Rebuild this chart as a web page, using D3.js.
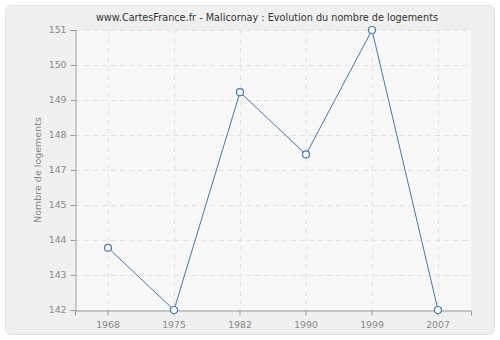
<!DOCTYPE html>
<html>
<head>
<meta charset="utf-8">
<script src="https://cdn.jsdelivr.net/npm/d3@7"></script>
<style>
  body { margin: 0; background: #fff; }
  svg text { font-family: "DejaVu Sans", Verdana, sans-serif; }
</style>
</head>
<body>
<svg id="chart"></svg>
<script>
// data
const years = ["1968", "1975", "1982", "1990", "1999", "2007"];
const logements = [144, 142, 149, 147, 151, 142];
const yMin = 142;
const yMax = 151;
const yTickCount = 8; // intervals

const width = 500, height = 340;
const margin = {top: 30, right: 29, bottom: 30, left: 75};
const innerW = width - margin.left - margin.right;
const innerH = height - margin.top - margin.bottom;

let svg = d3.select("#chart")
    .attr("width", width)
    .attr("height", height);

// outer panel
svg.append("rect")
    .attr("x", 5.5).attr("y", 5.5)
    .attr("width", width - 11).attr("height", height - 11)
    .attr("rx", 6).attr("ry", 6)
    .attr("fill", "#f0f0f0")
    .attr("stroke", "#e2e2e2");

// hatch pattern for plot bg
const defs = svg.append("defs");
const pat = defs.append("pattern")
    .attr("id", "hatch")
    .attr("patternUnits", "userSpaceOnUse")
    .attr("width", 4).attr("height", 4);
pat.append("rect").attr("width", 4).attr("height", 4).attr("fill", "#fbfbfb");
pat.append("path")
    .attr("d", "M-1,1 l2,-2 M0,4 l4,-4 M3,5 l2,-2")
    .attr("stroke", "#ececec")
    .attr("stroke-width", 0.8);

const x = d3.scaleBand()
    .domain(years)
    .range([0, innerW]);

const y = d3.scaleLinear()
    .domain([yMin, yMax])
    .range([innerH, 0]);

const yTicks = d3.range(yTickCount + 1).map(i => yMin + i * (yMax - yMin) / yTickCount);

const g = svg.append("g")
    .attr("transform", `translate(${margin.left},${margin.top})`);

g.append("rect")
    .attr("width", innerW).attr("height", innerH)
    .attr("fill", "url(#hatch)");

// alternate lighter bands
g.selectAll(".band")
    .data(yTicks.slice(0, -1).filter((d, i) => i % 2 === 1))
    .enter()
    .append("rect")
    .attr("x", 0)
    .attr("width", innerW)
    .attr("y", d => y(d + (yMax - yMin) / yTickCount))
    .attr("height", innerH / yTickCount)
    .attr("fill", "#f8f8f8")
    .attr("opacity", 0.6);

// grid
g.selectAll(".hgrid")
    .data(yTicks.slice(1))
    .enter()
    .append("line")
    .attr("x1", 0).attr("x2", innerW)
    .attr("y1", d => Math.round(y(d)) + 0.5)
    .attr("y2", d => Math.round(y(d)) + 0.5)
    .attr("stroke", "#e2e2e2")
    .attr("stroke-dasharray", "5,4");

g.selectAll(".vgrid")
    .data(years)
    .enter()
    .append("line")
    .attr("x1", d => Math.round(x(d) + x.bandwidth() / 2) + 0.5)
    .attr("x2", d => Math.round(x(d) + x.bandwidth() / 2) + 0.5)
    .attr("y1", 0).attr("y2", innerH)
    .attr("stroke", "#e2e2e2")
    .attr("stroke-dasharray", "5,4");

// axes
const yAxis = g.append("g")
    .attr("transform", "translate(0.5,0)")
    .call(d3.axisLeft(y).tickValues(yTicks).tickFormat(d => Math.round(d)).tickSize(5).tickPadding(4));

const xAxis = g.append("g")
    .attr("transform", `translate(0,${innerH + 0.5})`)
    .call(d3.axisBottom(x).tickSize(5).tickPadding(6));

[yAxis, xAxis].forEach(a => {
    a.select(".domain").attr("stroke", "#999");
    a.selectAll(".tick line").attr("stroke", "#999");
    a.selectAll("text").attr("fill", "#888").attr("font-size", 9.3)
        .attr("font-family", "\"DejaVu Sans\", Verdana, sans-serif");
});

// line + markers
const pts = years.map((yr, i) => ({yr, v: logements[i]}));
const line = d3.line()
    .x(d => x(d.yr) + x.bandwidth() / 2)
    .y(d => y(d.v));

g.append("path")
    .datum(pts)
    .attr("d", line)
    .attr("fill", "none")
    .attr("stroke", "#4a76aa")
    .attr("stroke-width", 1);

g.selectAll(".dot")
    .data(pts)
    .enter()
    .append("circle")
    .attr("cx", d => x(d.yr) + x.bandwidth() / 2)
    .attr("cy", d => y(d.v))
    .attr("r", 3.5)
    .attr("fill", "#fff")
    .attr("stroke", "#4a76aa")
    .attr("stroke-width", 1.2);

// title
svg.append("text")
    .attr("x", 267).attr("y", 21)
    .attr("text-anchor", "middle")
    .attr("fill", "#333")
    .attr("font-size", 9.7)
    .text("www.CartesFrance.fr - Malicornay : Evolution du nombre de logements");

// y label
svg.append("text")
    .attr("transform", `translate(41,${margin.top + innerH / 2}) rotate(-90)`)
    .attr("text-anchor", "middle")
    .attr("fill", "#888")
    .attr("font-size", 9.5)
    .text("Nombre de logements");
</script>
</body>
</html>
